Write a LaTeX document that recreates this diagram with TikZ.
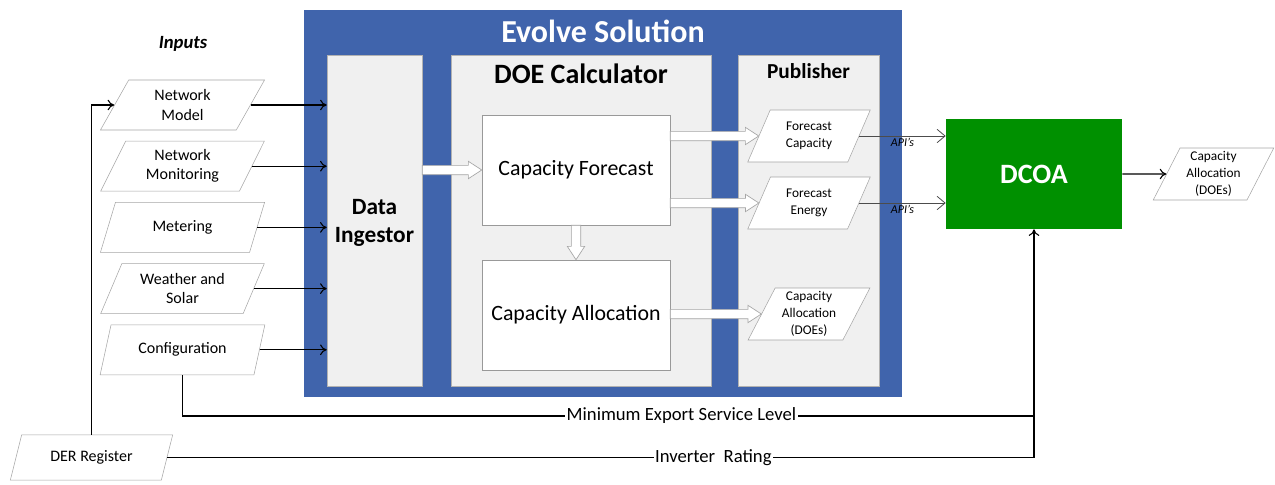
\documentclass[tikz,border=0pt]{standalone}
\usepackage{fontspec}
\setmainfont{Carlito}
\usepackage{xcolor}
\usepackage{tikz}
\usetikzlibrary{positioning,shapes.geometric,arrows.meta,calc}

\definecolor{evolveblue}{RGB}{64,100,172}
\definecolor{dcoagreen}{RGB}{0,144,0}
\definecolor{panelgray}{RGB}{240,240,240}

% block arrow to the right, from #1 to #2 (height taken from #1)
\newcommand{\blockright}[2]{%
  \path[blockarrow] let \p1=(#1), \p2=(#2) in
    (\x1,\y1+3.5pt) -- (\x2-10pt,\y1+3.5pt) -- (\x2-10pt,\y1+6.5pt) -- (\x2,\y1)
    -- (\x2-10pt,\y1-6.5pt) -- (\x2-10pt,\y1-3.5pt) -- (\x1,\y1-3.5pt) -- cycle;}
% block arrow downwards
\newcommand{\blockdown}[2]{%
  \path[blockarrow] let \p1=(#1), \p2=(#2) in
    (\x1-3.5pt,\y1) -- (\x1-3.5pt,\y2+10pt) -- (\x1-6.5pt,\y2+10pt) -- (\x1,\y2)
    -- (\x1+6.5pt,\y2+10pt) -- (\x1+3.5pt,\y2+10pt) -- (\x1+3.5pt,\y1) -- cycle;}

\tikzset{
  datain/.style={trapezium, trapezium left angle=64, trapezium right angle=116,
    trapezium stretches=true, draw=gray!70, fill=white, inner sep=0pt,
    minimum width=123.75pt, minimum height=37.5pt, align=center,
    font=\fontsize{12}{14.25}\selectfont},
  pubdata/.style={datain, minimum width=92pt, minimum height=39pt,
    font=\fontsize{10}{12.5}\selectfont},
  panel/.style={draw=gray!60, fill=panelgray, inner sep=0pt, minimum height=248.25pt},
  calcbox/.style={draw=gray!80, fill=white, minimum width=141pt, minimum height=82.5pt,
    font=\fontsize{16.4}{19}\selectfont},
  blockarrow/.style={draw=gray!70, fill=white, line width=0.5pt},
  link/.style={-{To[length=5pt,width=8pt]}, line width=0.8pt},
  apilink/.style={-{Straight Barb[length=6pt,width=10pt]}, line width=0.6pt, draw=black!70},
  linklabel/.style={fill=white, inner sep=1pt, font=\fontsize{14}{16}\selectfont}
}

\begin{document}
\begin{tikzpicture}[x=0.75pt,y=-0.75pt,every node/.style={on grid,node distance=45.9pt}]
  \useasboundingbox (0,0) rectangle (1275,485);

  % Evolve solution frame
  \node[fill=evolveblue, inner sep=0pt, minimum width=448.5pt, minimum height=290.25pt] (evolve) at (603,203.5) {};
  \node[text=white, font=\fontsize{24}{26}\selectfont\bfseries] (title) at (603,31) {Evolve Solution};

  \node[panel, minimum width=71.25pt] (ingest) at (374.5,220.5) {};
  \node[panel, minimum width=195pt] (calc) at (581,220.5) {};
  \node[panel, minimum width=105.75pt] (pub) at (808.5,220.5) {};

  \node[align=center, font=\fontsize{17.5}{21}\selectfont\bfseries] (ingesttxt) at (374.5,223) {Data\\Ingestor};
  \node[font=\fontsize{21}{23}\selectfont\bfseries] (calctxt) at (581,74) {DOE Calculator};
  \node[font=\fontsize{16}{18}\selectfont\bfseries] (pubtxt) at (808.5,71) {Publisher};

  % calculator
  \node[calcbox] (cf) at (576,170) {Capacity Forecast};
  \node[calcbox] (ca) at (576,315) {Capacity Allocation};

  % publisher outputs
  \node[pubdata] (fc) at (809,136) {Forecast\\Capacity};
  \node[pubdata] (fe) at (809,203) {Forecast\\Energy};
  \node[pubdata] (pca) at (809,314) {Capacity\\Allocation\\(DOEs)};

  \node[fill=dcoagreen, minimum width=132pt, minimum height=82.5pt, text=white,
    font=\fontsize{21}{24}\selectfont\bfseries] (dcoa) at (1034,174) {DCOA};
  \node[pubdata, minimum width=91pt] (out) at (1213.5,174) {Capacity\\Allocation\\(DOEs)};

  % inputs
  \node[font=\fontsize{14}{16}\selectfont\bfseries\itshape] (inputs) at (183,44) {Inputs};
  \node[datain] (nm) at (182.5,105) {Network\\Model};
  \node[datain, below of=nm] (nmon) {Network\\Monitoring};
  \node[datain, below of=nmon] (met) {Metering};
  \node[datain, below of=met] (ws) {Weather and\\Solar};
  \node[datain, below of=ws] (cfg) {Configuration};
  \node[datain, minimum width=122pt, minimum height=34pt] (der) at (91.5,457.5) {DER Register};

  \foreach \n in {nm,nmon,met,ws,cfg}
    \draw[link] (\n.east) -- (\n.east -| ingest.west);

  % block arrows
  \blockright{ingest.east |- cf.west}{cf.west}
  \blockdown{cf.south}{ca.north}
  \blockright{cf.east |- fc.west}{fc.west}
  \blockright{cf.east |- fe.west}{fe.west}
  \blockright{ca.east |- pca.west}{pca.west}

  \draw[apilink] (fc.east) -- node[below=-2pt, font=\fontsize{9}{10}\selectfont\itshape] {API's} (fc.east -| dcoa.west);
  \draw[apilink] (fe.east) -- node[below=-2pt, font=\fontsize{9}{10}\selectfont\itshape] {API's} (fe.east -| dcoa.west);
  \draw[link] (dcoa.east) -- (out.west);

  % feedback lines
  \draw[link] (der.north) |- (nm.west);
  \draw[link] (der.east) -| node[linklabel, pos=0.315] {Inverter\ \ Rating} (dcoa.south);
  \draw[line width=0.8pt] (cfg.south) |- node[linklabel, pos=0.793] {Minimum Export Service Level} (dcoa.south |- 0,416);
\end{tikzpicture}
\end{document}
